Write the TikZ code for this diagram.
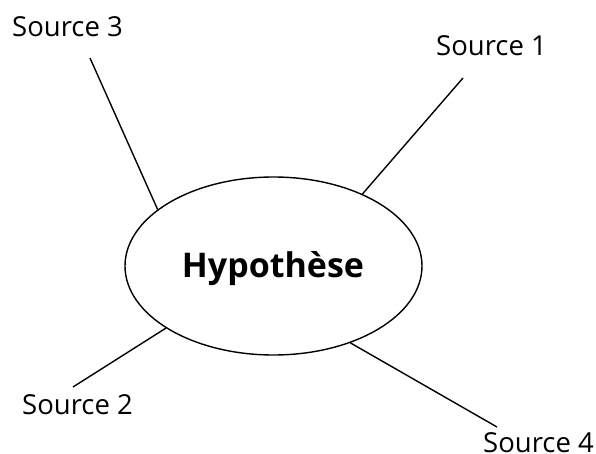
\documentclass[tikz,border=0pt]{standalone}
\usepackage{fontspec}
\setmainfont{Open Sans}
\usetikzlibrary{shapes.geometric}
\begin{document}
\begin{tikzpicture}[x=1pt,y=-1pt,
  lbl/.style={anchor=base west,inner sep=0pt,font=\fontsize{27.5}{30}\selectfont},
  link/.style={line width=1.4pt},
  hypbox/.style={ellipse,draw,line width=1.4pt,minimum width=297pt,minimum height=178pt,inner sep=0pt}]
\useasboundingbox (0,0) rectangle (596,454);
\node[hypbox] (hyp) at (273.5,266) {};
\node[anchor=base,inner sep=0pt,font=\bfseries\fontsize{34}{38}\selectfont] (hyptxt) at (273,277) {Hypothèse};
\node[lbl] (s3) at (12,37) {Source 3};
\node[lbl] (s1) at (436,56) {Source 1};
\node[lbl] (s2) at (22,414) {Source 2};
\node[lbl] (s4) at (483,452) {Source 4};
\coordinate (e3) at (90,58);
\coordinate (e1) at (463,78);
\coordinate (e2) at (73,387);
\coordinate (e4) at (497,427);
\draw[link] (e3) -- (hyp.154.9);
\draw[link] (e1) -- (hyp.39.2);
\draw[link] (e2) -- (hyp.210.4);
\draw[link] (e4) -- (hyp.315.2);
\end{tikzpicture}
\end{document}
